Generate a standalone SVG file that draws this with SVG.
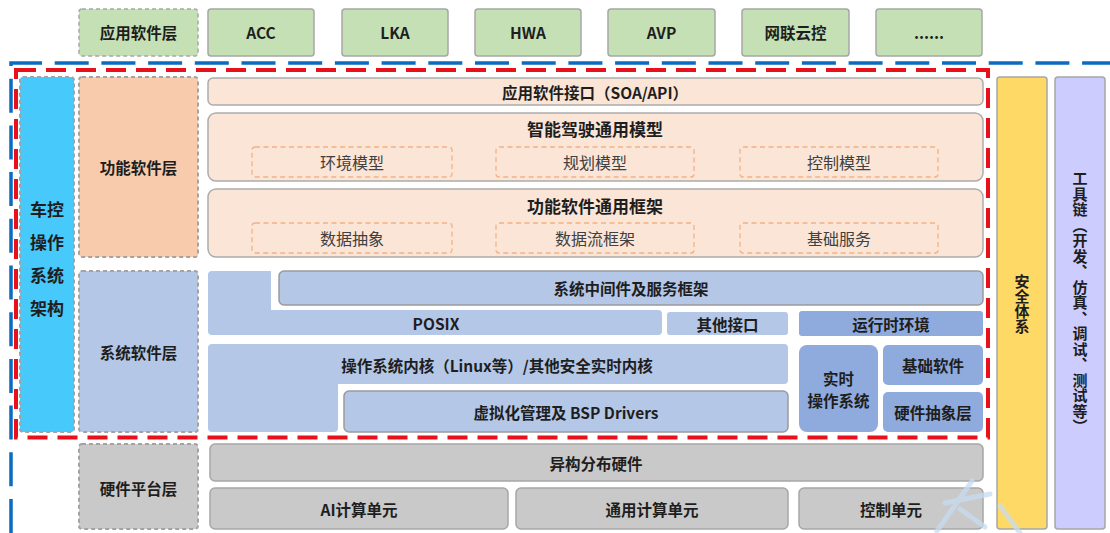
<svg xmlns="http://www.w3.org/2000/svg" width="1110" height="533" viewBox="0 0 1110 533">
  <style>
    text { font-family: "Noto Sans CJK SC", "Liberation Sans", sans-serif; fill: #1e1e1e; dominant-baseline: central; text-anchor: middle; }
    .b { font-weight: bold; font-size: 15.5px; }
    .t { font-weight: bold; font-size: 17px; }
    .r { font-size: 16px; fill: #404040; }
    .layer { stroke: #a3a3a3; stroke-width: 2; stroke-dasharray: 4 3; }
    .app { fill: #c5e0b4; stroke: #a6a6a6; stroke-width: 1.5; }
    .fun { fill: #fbe5d6; stroke: #acacac; stroke-width: 1.5; }
    .sub { fill: none; stroke: #f4b183; stroke-width: 1.3; stroke-dasharray: 5 3.5; }
    .sys { fill: #b4c7e7; }
    .sysb { fill: #b4c7e7; stroke: #9a9a9a; stroke-width: 1.5; }
    .dark { fill: #8faadc; }
    .hw { fill: #c9c9c9; stroke: #a6a6a6; stroke-width: 1.5; }
    .vt { writing-mode: vertical-rl; text-orientation: upright; font-weight: bold; font-size: 15px; dominant-baseline: auto; }
  </style>

  <!-- application layer -->
  <g id="app-layer"><rect class="app layer" x="79" y="9" width="119" height="47" rx="3"/><text class="b" x="138.5" y="32">应用软件层</text></g>
  <g id="acc"><rect class="app" x="208" y="9" width="106" height="47" rx="3"/><text class="b" x="261" y="32">ACC</text></g>
  <g id="lka"><rect class="app" x="342" y="9" width="106" height="47" rx="3"/><text class="b" x="395" y="32">LKA</text></g>
  <g id="hwa"><rect class="app" x="475" y="9" width="106" height="47" rx="3"/><text class="b" x="528" y="32">HWA</text></g>
  <g id="avp"><rect class="app" x="608" y="9" width="107" height="47" rx="3"/><text class="b" x="661.5" y="32">AVP</text></g>
  <g id="cloud"><rect class="app" x="742" y="9" width="107" height="47" rx="3"/><text class="b" x="795.5" y="32">网联云控</text></g>
  <g id="more"><rect class="app" x="876" y="9" width="106" height="47" rx="3"/><text class="b" x="929" y="32">......</text></g>

  <!-- outer frames -->
  <g id="frames" fill="none">
    <path d="M11,533 V63 H1110" stroke="#0b6bc0" stroke-width="3.5" stroke-dasharray="34 12.7"/>
    <path d="M16,70 H988 V437.5 H16 Z" stroke="#e8101a" stroke-width="4" stroke-dasharray="20 10"/>
  </g>

  <!-- left column -->
  <g id="vehicle-os">
    <rect class="layer" x="20" y="77" width="54" height="355" rx="3" fill="#47c9fb"/>
    <text class="t" x="47" y="208">车控</text>
    <text class="t" x="47" y="241">操作</text>
    <text class="t" x="47" y="274">系统</text>
    <text class="t" x="47" y="307">架构</text>
  </g>
  <g id="func-layer"><rect class="layer" x="79" y="77" width="119" height="180" rx="3" fill="#f8cbad"/><text class="b" x="138.5" y="167">功能软件层</text></g>
  <g id="sys-layer"><rect class="layer" x="79" y="271" width="119" height="161" rx="3" fill="#b4c7e7"/><text class="b" x="138.5" y="352">系统软件层</text></g>
  <g id="hw-layer"><rect class="layer" x="79" y="444" width="119" height="85" rx="3" fill="#c9c9c9"/><text class="b" x="138.5" y="488">硬件平台层</text></g>

  <!-- functional software -->
  <g id="api"><rect class="fun" x="208" y="78" width="775" height="27" rx="5"/><text class="b" x="595" y="91.5">应用软件接口（SOA/API）</text></g>
  <g id="model">
    <rect class="fun" x="208" y="113" width="775" height="68" rx="8"/>
    <text class="t" x="595" y="128">智能驾驶通用模型</text>
    <rect class="sub" x="252" y="147" width="200" height="30" rx="3"/><text class="r" x="352" y="162">环境模型</text>
    <rect class="sub" x="496" y="147" width="198" height="30" rx="3"/><text class="r" x="595" y="162">规划模型</text>
    <rect class="sub" x="740" y="147" width="198" height="30" rx="3"/><text class="r" x="839" y="162">控制模型</text>
  </g>
  <g id="framework">
    <rect class="fun" x="208" y="189" width="775" height="68" rx="8"/>
    <text class="t" x="595" y="205">功能软件通用框架</text>
    <rect class="sub" x="252" y="223" width="200" height="30" rx="3"/><text class="r" x="352" y="238">数据抽象</text>
    <rect class="sub" x="496" y="223" width="198" height="30" rx="3"/><text class="r" x="595" y="238">数据流框架</text>
    <rect class="sub" x="740" y="223" width="198" height="30" rx="3"/><text class="r" x="839" y="238">基础服务</text>
  </g>

  <!-- system software -->
  <g id="posix">
    <path class="sys" d="M212,271 H271 V310 H658 Q662,310 662,314 V331 Q662,335 658,335 H212 Q208,335 208,331 V275 Q208,271 212,271 Z"/>
    <text class="b" x="436" y="323">POSIX</text>
  </g>
  <g id="middleware"><rect class="sysb" x="279" y="271" width="704" height="34" rx="5"/><text class="b" x="631" y="288">系统中间件及服务框架</text></g>
  <g id="other-if"><rect class="sys" x="667" y="312" width="121" height="23" rx="3"/><text class="b" x="727.5" y="323.5">其他接口</text></g>
  <g id="runtime"><rect class="dark" x="799" y="311" width="184" height="25" rx="3"/><text class="b" x="891" y="323.5">运行时环境</text></g>
  <g id="kernel">
    <path class="sys" d="M212,344 H784 Q788,344 788,348 V380 Q788,384 784,384 H338 V428 Q338,432 334,432 H212 Q208,432 208,428 V348 Q208,344 212,344 Z"/>
    <text class="b" x="497" y="365">操作系统内核（Linux等）/其他安全实时内核</text>
  </g>
  <g id="bsp"><rect class="sysb" x="344" y="391" width="444" height="41" rx="5"/><text class="b" x="566" y="411.5">虚拟化管理及 BSP Drivers</text></g>
  <g id="rtos">
    <rect class="dark" x="799" y="345" width="79" height="87" rx="8"/>
    <text class="b" x="838.5" y="378" font-size="15">实时</text>
    <text class="b" x="838.5" y="400" font-size="15">操作系统</text>
  </g>
  <g id="base-sw"><rect class="dark" x="883" y="345" width="100" height="40" rx="5"/><text class="b" x="933" y="365">基础软件</text></g>
  <g id="hal"><rect class="dark" x="883" y="392" width="100" height="40" rx="5"/><text class="b" x="933" y="412">硬件抽象层</text></g>

  <!-- hardware -->
  <g id="hetero"><rect class="hw" x="210" y="444" width="773" height="37" rx="5"/><text class="b" x="596" y="463">异构分布硬件</text></g>
  <g id="ai"><rect class="hw" x="210" y="488" width="298" height="41" rx="5"/><text class="b" x="359" y="509">AI计算单元</text></g>
  <g id="cpu"><rect class="hw" x="516" y="488" width="272" height="41" rx="5"/><text class="b" x="652" y="509">通用计算单元</text></g>
  <g id="ctrl"><rect class="hw" x="799" y="488" width="184" height="41" rx="5"/><text class="b" x="891" y="509">控制单元</text></g>

  <!-- side columns -->
  <g id="safety">
    <rect x="997" y="77" width="50" height="452" rx="3" fill="#ffd966" stroke="#a6a6a6" stroke-width="1.5"/>
    <text class="vt" x="1022" y="304">安全体系</text>
  </g>
  <g id="toolchain">
    <rect x="1055" y="77" width="50" height="452" rx="3" fill="#ccccff" stroke="#a6a6a6" stroke-width="1.5"/>
    <text class="vt" x="1080" y="303" letter-spacing="0.5">工具链（开发、仿真、调试、测试等）</text>
  </g>

  <!-- faint mark, lower right -->
  <g id="mark" fill="none" stroke="#c8dcf2" stroke-width="5" stroke-linecap="round" opacity="0.75">
    <path d="M972,481 L937,531"/>
    <path d="M945,503 L990,494"/>
    <path d="M960,509 L985,527"/>
    <path d="M1000,506 L1020,533"/>
  </g>
</svg>
